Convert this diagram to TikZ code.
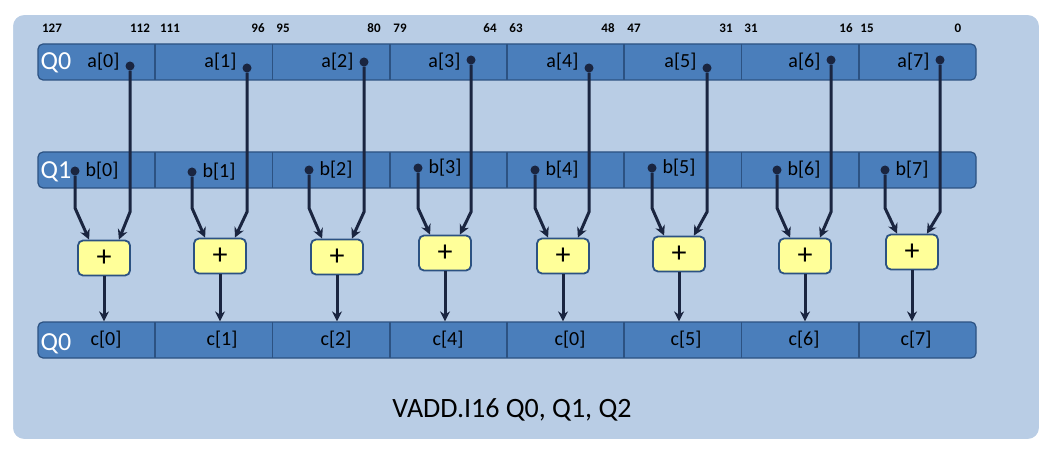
\documentclass[tikz,border=0pt]{standalone}
\usepackage{fontspec}
\setmainfont{Carlito}
\usetikzlibrary{arrows.meta}
\definecolor{panel}{HTML}{B9CDE5}
\definecolor{bar}{HTML}{4A7EBB}
\definecolor{barline}{HTML}{2C5282}
\definecolor{navy}{HTML}{1A2540}
\definecolor{plusfill}{HTML}{FFFF99}
\begin{document}
\begin{tikzpicture}[x=1pt,y=-1pt,
  barbox/.style={draw=barline,line width=1.2pt,fill=bar,rounded corners=5pt,minimum width=938pt,minimum height=36pt,inner sep=0pt},
  celltxt/.style={font=\fontsize{20}{20}\selectfont,text=black},
  qtxt/.style={font=\fontsize{26}{26}\selectfont,text=white},
  bits/.style={font=\bfseries\fontsize{13}{13}\selectfont},
  plusbox/.style={draw=barline,line width=1.8pt,fill=plusfill,rounded corners=5pt,minimum width=52pt,minimum height=35pt,font=\fontsize{30}{30}\selectfont},
  wire/.style={navy,line width=3pt},
  arr/.style={wire,-{Stealth[length=10pt,width=10pt]}},
  dotc/.style={circle,fill=navy,inner sep=0pt,minimum size=9pt}]
\useasboundingbox (0,0) rectangle (1049,454);
\node[draw=white,line width=2pt,fill=panel,rounded corners=12pt,minimum width=1028pt,minimum height=426pt] (panel) at (526,227) {};
\foreach \n/\y in {ra/62,rb/170,rc/340}{
  \node[barbox] (\n) at (507,\y) {};
  \foreach \i in {1,...,7}{\draw[barline,line width=1.8pt] (38+117.25*\i,\y-18) -- (38+117.25*\i,\y+18);}
}
\node[qtxt,anchor=west] (qa) at (37,63) {Q0};
\node[qtxt,anchor=west] (qb) at (37,172) {Q1};
\node[qtxt,anchor=west] (qc) at (37,344) {Q0};
\foreach \t/\x in {127/52,112/140,111/170,96/258,95/283,80/374,79/400,64/490,63/516,48/608,47/634,31/726,31/751,16/846,15/867,0/958}{
  \node[bits] at (\x,28) {\t};}
\foreach \i/\x/\y in {0/104/258,1/220/256,2/337/257,3/445/253,4/563/256,5/679/254,6/805/256,7/912/252}{
  \node[plusbox] (p\i) at (\x,\y) {+};}
\foreach \i/\x/\y in {0/130/66,1/247/68,2/364/62,3/471/60,4/589/68,5/707/68,6/831/60,7/940/60}{
  \node[dotc] (da\i) at (\x,\y) {};
  \node[celltxt,anchor=east] (la\i) at (\x-7,62) {a[\i]};
  \draw[arr] (da\i) -- (\x,212) -- ([xshift=-12pt]p\i.north east);}
\foreach \i/\x/\y in {0/75/171,1/192/172,2/309/170,3/418/168,4/535/170,5/652/168,6/777/170,7/885/170}{
  \node[dotc] (db\i) at (\x,\y) {};
  \node[celltxt,anchor=west] (lb\i) at (\x+7,\y) {b[\i]};
  \draw[arr] (db\i) -- (\x,208) -- ([xshift=12pt]p\i.north west);}
\foreach \i/\l/\x in {0/0/106,1/1/222,2/2/336,3/4/448,4/0/570,5/5/686,6/6/804,7/7/916}{
  \node[celltxt] (lc\i) at (\x,340) {c[\l]};
  \draw[arr] (p\i.south) -- (p\i.south |- rc.north);}
\node[font=\fontsize{28}{28}\selectfont] (cap) at (512,410) {VADD.I16 Q0, Q1, Q2};
\end{tikzpicture}
\end{document}
